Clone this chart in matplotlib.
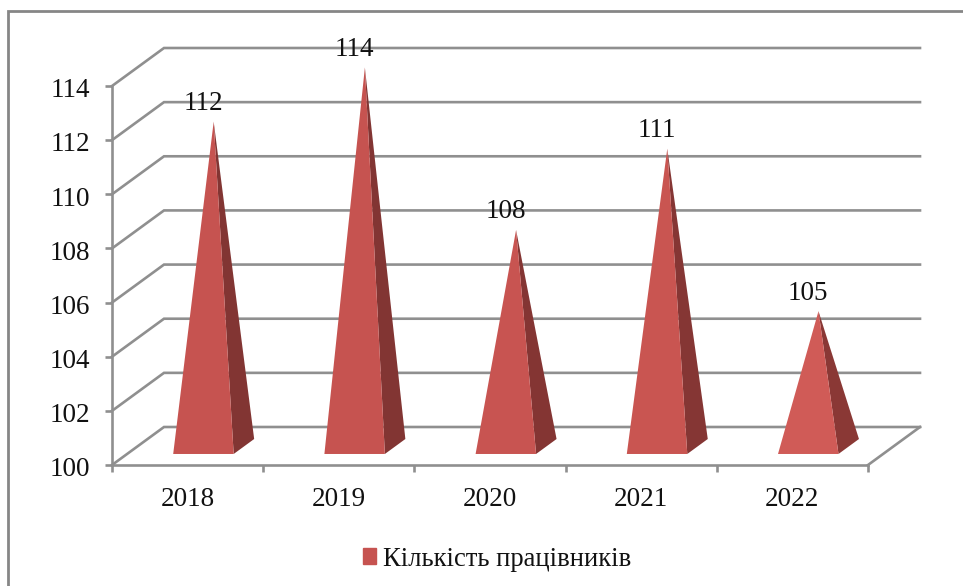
import matplotlib
matplotlib.use("Agg")
import matplotlib.pyplot as plt
from matplotlib.lines import Line2D
from matplotlib.patches import Patch, Polygon
from matplotlib.transforms import ScaledTranslation

years = ["2018", "2019", "2020", "2021", "2022"]
workers = [112, 114, 108, 111, 105]
y_ticks = [100, 102, 104, 106, 108, 110, 112, 114]
series_name = "Кількість працівників"
front_colors = ["#C65350", "#C65350", "#C85451", "#C95551", "#D05B57"]
side_colors = ["#823533", "#823533", "#843533", "#853634", "#8A3835"]

GRID = "#8F8F8F"
W, H = 963, 586
# plot box in pixels
LEFT, RIGHT, TOP, BOTTOM = 112, 868, 86, 465
# depth of the 3d box, in data units
DEPTH_X = 52 / ((RIGHT - LEFT) / len(years))
DEPTH_Y = 38 / ((BOTTOM - TOP) / (y_ticks[-1] - y_ticks[0]))

plt.rcParams["font.family"] = ["Liberation Serif", "DejaVu Serif"]
fig = plt.figure(figsize=(W / 100, H / 100), dpi=100)
ax = fig.add_axes([LEFT / W, 1 - BOTTOM / H, (RIGHT - LEFT) / W, (BOTTOM - TOP) / H])
ax.set_xlim(0, len(years))
ax.set_ylim(y_ticks[0], y_ticks[-1])
ax.patch.set_visible(False)


def project(x, y, depth):
    return x + depth * DEPTH_X, y + depth * DEPTH_Y


# walls: slanted line on the side plus a line along the back
for v in y_ticks:
    bx, by = project(0, v, 1)
    ex, _ = project(len(years), v, 1)
    ax.plot([0, bx, ex], [v, by, by], color=GRID, lw=1.9, clip_on=False, zorder=1,
            solid_joinstyle="miter")
# floor, right edge
fx, fy = project(len(years), y_ticks[0], 1)
ax.plot([len(years), fx], [y_ticks[0], fy], color=GRID, lw=1.9, clip_on=False, zorder=1)

# pyramids
half = 0.2
d_front, d_back = 0.29, 0.684
d_mid = (d_front + d_back) / 2
for i, v in enumerate(workers):
    c = i + 0.505
    base = y_ticks[0]
    fl = project(c - half, base, d_front)
    fr = project(c + half, base, d_front)
    br = project(c + half, base, d_back)
    apex = project(c, v, d_mid)
    ax.add_patch(Polygon([fr, br, apex], closed=True, fc=side_colors[i], ec="none",
                         clip_on=False, zorder=3))
    ax.add_patch(Polygon([fl, fr, apex], closed=True, fc=front_colors[i], ec="none",
                         clip_on=False, zorder=4))
    ax.annotate(str(v), xy=apex, xytext=(-7.5, 4), textcoords="offset points",
                ha="center", va="bottom", fontsize=19.5, color="#111111", zorder=5,
                annotation_clip=False)

for side in ["top", "right"]:
    ax.spines[side].set_visible(False)
for side in ["left", "bottom"]:
    ax.spines[side].set_color(GRID)
    ax.spines[side].set_linewidth(1.9)
    ax.spines[side].set_zorder(2)

ax.set_yticks(y_ticks)
ax.tick_params(axis="y", length=5, width=1.9, color=GRID, labelsize=19.5, pad=11,
               labelcolor="#111111")
ax.set_xticks(range(len(years) + 1))
ax.set_xticklabels([])
ax.set_xticks([i + 0.5 for i in range(len(years))], minor=True)
ax.set_xticklabels(years, minor=True)
ax.tick_params(axis="x", which="major", length=5, width=1.9, color=GRID)
ax.tick_params(axis="x", which="minor", length=0, labelsize=19.5, pad=16,
               labelcolor="#111111")

# y labels sit a little lower than matplotlib centres them
down = ScaledTranslation(0, -1.3 / 72, fig.dpi_scale_trans)
for lab in ax.get_yticklabels():
    lab.set_transform(lab.get_transform() + down)

fig.legend(handles=[Patch(color=front_colors[0], label=series_name)],
           loc="center", bbox_to_anchor=(497 / W, 1 - 559 / H), frameon=False,
           fontsize=19.2, handlelength=0.5, handleheight=0.5, handletextpad=0.25,
           labelcolor="#111111")

# chart frame, only top and left are in the picture
fig.add_artist(Line2D([8 / W, 8 / W, 1], [0, 1 - 11 / H, 1 - 11 / H], color="#868686", lw=2,
                      solid_joinstyle="miter"))

fig.savefig("out.png", dpi=100, facecolor="white")
